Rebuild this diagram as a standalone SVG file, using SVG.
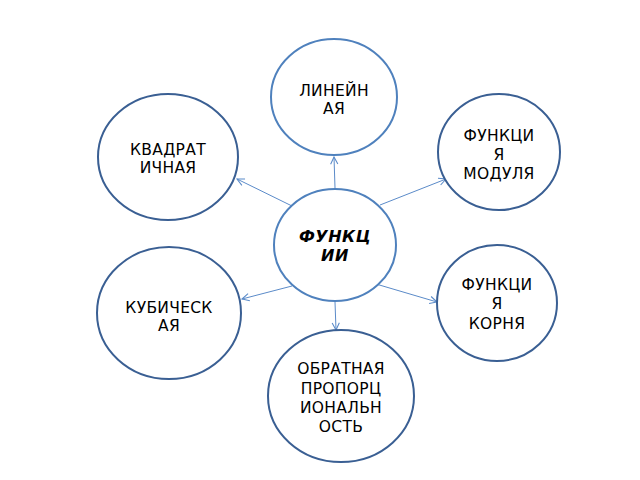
<svg xmlns="http://www.w3.org/2000/svg" width="640" height="480" viewBox="0 0 640 480">
<style>
.n{fill:#fff;stroke-width:2}
.l{stroke:#4F81BD}
.d{stroke:#3A5F93}
text{font-family:"DejaVu Sans","Liberation Sans",sans-serif;font-size:15.5px;letter-spacing:0.3px;fill:#000;text-anchor:middle}
.b{font-weight:bold;font-style:italic;font-size:16px;letter-spacing:0.5px}
.c{stroke:#5B8BC9;stroke-width:1;fill:none;marker-end:url(#a)}
</style>
<defs>
<marker id="a" viewBox="0 0 10 10" refX="9" refY="5" markerWidth="9" markerHeight="9" markerUnits="userSpaceOnUse" orient="auto">
<path d="M1,1 L9,5 L1,9" fill="none" stroke="#5B8BC9" stroke-width="1.2"/>
</marker>
</defs>
<rect width="640" height="480" fill="#fff"/>
<g id="connectors">
<line class="c" x1="335" y1="188" x2="334" y2="157"/>
<line class="c" x1="292" y1="206" x2="237" y2="179"/>
<line class="c" x1="380" y1="205" x2="446" y2="179"/>
<line class="c" x1="292" y1="286" x2="242" y2="299"/>
<line class="c" x1="376" y1="284" x2="437" y2="302" style="marker-start:url(#a)"/>
<line class="c" x1="335" y1="302" x2="336" y2="330"/>
</g>
<g id="linear"><ellipse class="n l" cx="334" cy="97" rx="63" ry="58"/><text x="334" y="96">ЛИНЕЙН</text><text x="334" y="114">АЯ</text></g>
<g id="quadratic"><ellipse class="n d" cx="168" cy="157" rx="70" ry="63"/><text x="168" y="155">КВАДРАТ</text><text x="168" y="173">ИЧНАЯ</text></g>
<g id="modulus"><ellipse class="n d" cx="499" cy="152" rx="61" ry="58"/><text x="499" y="141">ФУНКЦИ</text><text x="499" y="160">Я</text><text x="499" y="179">МОДУЛЯ</text></g>
<g id="center"><ellipse class="n l" cx="335" cy="245" rx="61" ry="56"/><text class="b" x="335" y="242">ФУНКЦ</text><text class="b" x="335" y="261">ИИ</text></g>
<g id="cubic"><ellipse class="n d" cx="169" cy="313" rx="72" ry="66"/><text x="169" y="313">КУБИЧЕСК</text><text x="169" y="331">АЯ</text></g>
<g id="root"><ellipse class="n d" cx="497" cy="303" rx="60" ry="58"/><text x="497" y="290">ФУНКЦИ</text><text x="497" y="309">Я</text><text x="497" y="329">КОРНЯ</text></g>
<g id="inverse"><ellipse class="n d" cx="341" cy="396" rx="73" ry="66"/><text x="341" y="374">ОБРАТНАЯ</text><text x="341" y="394">ПРОПОРЦ</text><text x="341" y="413">ИОНАЛЬН</text><text x="341" y="432">ОСТЬ</text></g>
</svg>
